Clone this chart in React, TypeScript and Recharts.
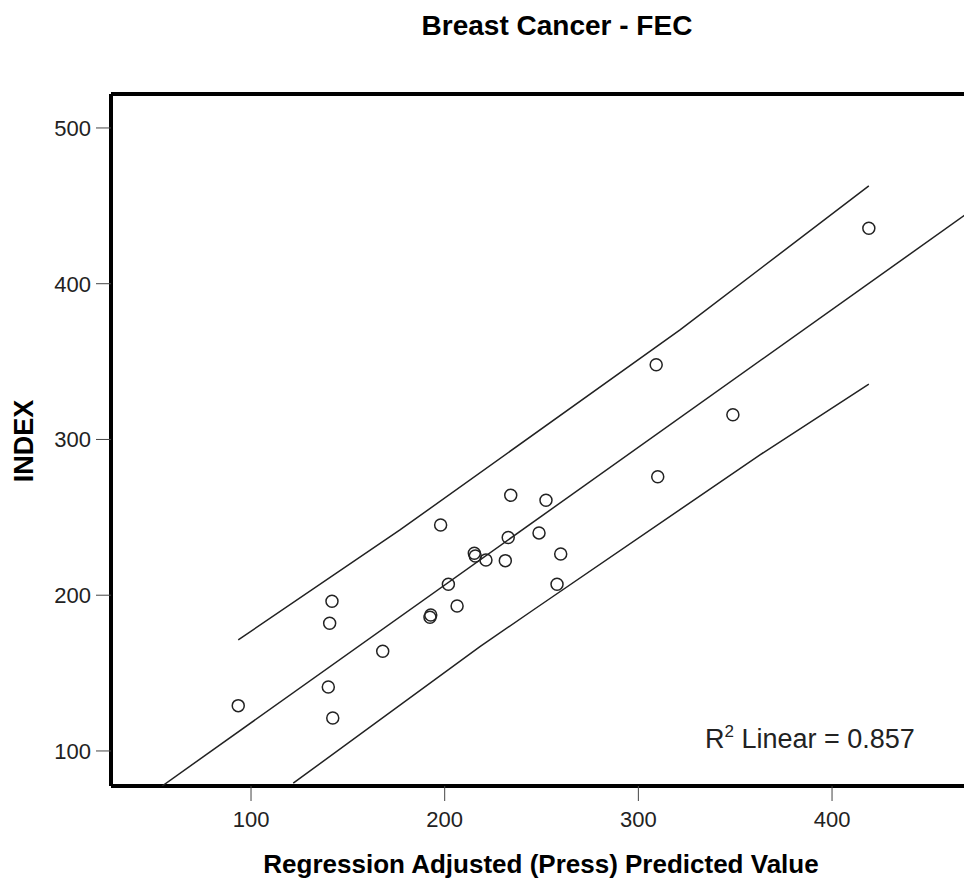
import React from "react";
import { ScatterChart, Scatter, XAxis, YAxis, ReferenceLine } from "recharts";

// Regression adjusted (press) predicted value
const predicted = [
  93.4, 139.9, 142.2, 141.8, 140.6, 168.0, 192.8, 192.4, 197.9, 201.9, 206.4,
  215.3, 215.8, 221.3, 232.8, 234.1, 231.3, 252.3, 248.7, 259.9, 258.0, 309.2,
  348.8, 310.0, 419.0,
];
// INDEX
const indexValues = [
  129.1, 141.1, 121.2, 196.1, 182.0, 164.0, 187.3, 185.8, 245.1, 207.0, 193.1,
  226.9, 225.2, 222.6, 237.0, 264.2, 222.2, 261.0, 240.0, 226.5, 207.0, 348.0,
  315.9, 276.1, 435.6,
];

// fit line + 95% prediction band
const fitX = [54.1, 470.2];
const fitY = [77.5, 445.5];
const upperX = [93.4, 176.9, 321.5, 419.0];
const upperY = [171.3, 241.9, 370.3, 462.8];
const lowerX = [121.8, 218.2, 245.7, 362.8, 419.0];
const lowerY = [79.3, 167.0, 190.5, 290.1, 335.6];

const xTicks = [100, 200, 300, 400];
const yTicks = [100, 200, 300, 400, 500];

const X_DOMAIN = [27.7, 470.2];
const Y_DOMAIN = [77.5, 521.8];

const points = predicted.map((x, i) => ({ x, y: indexValues[i] }));
const toPts = (xs: number[], ys: number[]) => xs.map((x, i) => ({ x, y: ys[i] }));

const FONT = "'Liberation Sans', Arial, sans-serif";
const INK = "#222";

const OpenCircle = (props: any) => (
  <circle cx={props.cx} cy={props.cy} r={6} fill="none" stroke={INK} strokeWidth={1.5} />
);
const NoDot = () => <g />;

export default function App() {
  const tick = { fontSize: 22, fill: INK, fontFamily: FONT };
  return (
    <div
      style={{
        position: "absolute",
        left: 0,
        top: 0,
        width: 964,
        height: 878,
        overflow: "hidden",
        background: "#fff",
      }}
    >
      <ScatterChart width={968} height={878} margin={{ top: 94, right: 0, bottom: 0, left: 0 }}>
        <XAxis
          type="number"
          dataKey="x"
          domain={X_DOMAIN}
          ticks={xTicks}
          allowDataOverflow
          height={92}
          axisLine={{ stroke: "#000", strokeWidth: 4 }}
          tickLine={{ stroke: "#444" }}
          tickSize={15}
          tickMargin={10}
          tick={tick}
        />
        <YAxis
          type="number"
          dataKey="y"
          domain={Y_DOMAIN}
          ticks={yTicks}
          allowDataOverflow
          width={111}
          axisLine={{ stroke: "#000", strokeWidth: 4 }}
          tickLine={{ stroke: "#444" }}
          tickSize={15}
          tickMargin={5}
          tick={tick}
        />
        {/* top edge of the frame */}
        <ReferenceLine y={Y_DOMAIN[1]} stroke="#000" strokeWidth={4} ifOverflow="visible" />
        <Scatter
          data={toPts(fitX, fitY)}
          line={{ stroke: INK, strokeWidth: 1.5 }}
          shape={NoDot}
          isAnimationActive={false}
        />
        <Scatter
          data={toPts(upperX, upperY)}
          line={{ stroke: INK, strokeWidth: 1.5 }}
          shape={NoDot}
          isAnimationActive={false}
        />
        <Scatter
          data={toPts(lowerX, lowerY)}
          line={{ stroke: INK, strokeWidth: 1.5 }}
          shape={NoDot}
          isAnimationActive={false}
        />
        <Scatter data={points} shape={OpenCircle} isAnimationActive={false} />

        <text x={557} y={35} textAnchor="middle" fontFamily={FONT} fontWeight="bold" fontSize={28} fill="#000">
          Breast Cancer - FEC
        </text>
        <text x={541} y={873} textAnchor="middle" fontFamily={FONT} fontWeight="bold" fontSize={26} fill="#000">
          Regression Adjusted (Press) Predicted Value
        </text>
        <text
          x={33}
          y={441}
          textAnchor="middle"
          transform="rotate(-90 33 441)"
          fontFamily={FONT}
          fontWeight="bold"
          fontSize={27}
          fill="#000"
        >
          INDEX
        </text>
        <text x={705} y={748} fontFamily={FONT} fontSize={27} fill={INK}>
          R
          <tspan fontSize={17} dy={-11}>2</tspan>
          <tspan dy={11}> Linear = 0.857</tspan>
        </text>
      </ScatterChart>
    </div>
  );
}
